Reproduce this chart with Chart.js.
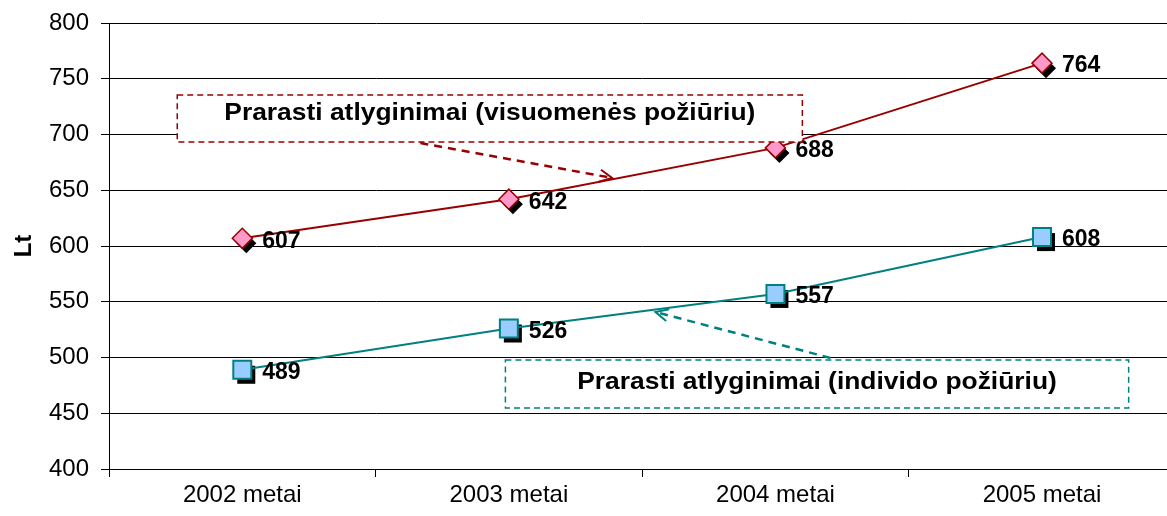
<!DOCTYPE html>
<html>
<head>
<meta charset="utf-8">
<script src="https://cdn.jsdelivr.net/npm/chart.js@4/dist/chart.umd.min.js"></script>
<style>
  html, body { margin: 0; padding: 0; background: #fff; overflow: hidden; }
  #wrap { width: 1190px; height: 516px; position: relative; }
</style>
</head>
<body>
<div id="wrap"><canvas id="chart"></canvas></div>
<script>
// values
const years = ['2002 metai', '2003 metai', '2004 metai', '2005 metai'];
const socialLoss = [607, 642, 688, 764];      // visuomenės požiūriu
const individualLoss = [489, 526, 557, 608];  // individo požiūriu
const yMin = 400;
const yMax = 800;
const yStep = 50;

const FONT = '"Liberation Sans", Arial, sans-serif';

// callout boxes, placed in data units (category index, Lt)
const notes = [
  {
    text: 'Prarasti atlyginimai (visuomenės požiūriu)',
    color: '#990000',
    box: [-0.244, 735.4, 2.101, 693.3],
    arrow: [0.668, 692.4, 1.388, 661.0]
  },
  {
    text: 'Prarasti atlyginimai (individo požiūriu)',
    color: '#008080',
    box: [0.987, 497.8, 3.325, 454.7],
    arrow: [2.206, 499.6, 1.55, 540.8]
  }
];

// black drop shadow under each marker, drawn before the series
const shadowPlugin = {
  id: 'shadows',
  beforeDatasetsDraw(chart) {
    const ctx = chart.ctx;
    ctx.save();
    ctx.fillStyle = '#000';
    chart.data.datasets.forEach((ds, i) => {
      chart.getDatasetMeta(i).data.forEach(pt => {
        const x = pt.x + 4, y = pt.y + 5;
        ctx.beginPath();
        if (ds.pointStyle === 'rectRot') {
          ctx.moveTo(x, y - 10);
          ctx.lineTo(x + 10, y);
          ctx.lineTo(x, y + 10);
          ctx.lineTo(x - 10, y);
          ctx.closePath();
        } else {
          ctx.rect(x - 9, y - 9, 18, 18);
        }
        ctx.fill();
      });
    });
    ctx.restore();
  }
};

// value labels + callouts
const labelPlugin = {
  id: 'labels',
  afterDatasetsDraw(chart) {
    const ctx = chart.ctx;
    const xs = chart.scales.x, ys = chart.scales.y;
    ctx.save();
    ctx.fillStyle = '#000';
    ctx.font = 'bold 23px ' + FONT;
    ctx.textAlign = 'left';
    ctx.textBaseline = 'middle';
    chart.data.datasets.forEach((ds, i) => {
      chart.getDatasetMeta(i).data.forEach((pt, j) => {
        ctx.fillText(String(ds.data[j]), pt.x + 20, pt.y + 3);
      });
    });

    notes.forEach((n, k) => {
      const x0 = xs.getPixelForValue(n.box[0]), y0 = ys.getPixelForValue(n.box[1]);
      const x1 = xs.getPixelForValue(n.box[2]), y1 = ys.getPixelForValue(n.box[3]);
      ctx.fillStyle = '#fff';
      ctx.fillRect(x0, y0, x1 - x0, y1 - y0);
      ctx.strokeStyle = n.color;
      ctx.lineWidth = 1.5;
      ctx.setLineDash([6, 4]);
      ctx.strokeRect(x0, y0, x1 - x0, y1 - y0);

      // the original text is a little stretched sideways
      ctx.fillStyle = '#000';
      ctx.font = 'bold 24px ' + FONT;
      ctx.textAlign = 'center';
      ctx.save();
      ctx.translate((x0 + x1) / 2, (y0 + y1) / 2 - (k === 0 ? 5 : 2));
      ctx.scale(1.1, 1);
      ctx.fillText(n.text, 0, 0);
      ctx.restore();

      const ax = xs.getPixelForValue(n.arrow[0]), ay = ys.getPixelForValue(n.arrow[1]);
      const bx = xs.getPixelForValue(n.arrow[2]), by = ys.getPixelForValue(n.arrow[3]);
      ctx.lineWidth = 2.5;
      ctx.setLineDash([8, 6]);
      ctx.beginPath();
      ctx.moveTo(ax, ay);
      ctx.lineTo(bx, by);
      ctx.stroke();
      // open arrow head
      const ang = Math.atan2(by - ay, bx - ax);
      ctx.setLineDash([]);
      ctx.lineWidth = 2;
      ctx.beginPath();
      ctx.moveTo(bx - 14 * Math.cos(ang - 0.45), by - 14 * Math.sin(ang - 0.45));
      ctx.lineTo(bx, by);
      ctx.lineTo(bx - 14 * Math.cos(ang + 0.45), by - 14 * Math.sin(ang + 0.45));
      ctx.stroke();
    });
    ctx.restore();
  }
};

new Chart(document.getElementById('chart'), {
  type: 'line',
  data: {
    labels: years,
    datasets: [
      {
        data: socialLoss,
        borderColor: '#990000',
        borderWidth: 2,
        pointStyle: 'rectRot',
        pointRadius: 10,
        pointBackgroundColor: '#FF99CC',
        pointBorderColor: '#990000',
        pointBorderWidth: 1.5,
        tension: 0
      },
      {
        data: individualLoss,
        borderColor: '#008080',
        borderWidth: 2,
        pointStyle: 'rect',
        pointRadius: 12.7,
        pointBackgroundColor: '#99CCFF',
        pointBorderColor: '#008080',
        pointBorderWidth: 2,
        tension: 0
      }
    ]
  },
  options: {
    responsive: true,
    maintainAspectRatio: false,
    animation: false,
    devicePixelRatio: 1,
    layout: { padding: { top: 23, left: 0, right: 0, bottom: 0 } },
    plugins: {
      legend: { display: false },
      tooltip: { enabled: false }
    },
    scales: {
      x: {
        offset: true,
        grid: { offset: true, drawOnChartArea: false, drawTicks: true, tickLength: 8, color: '#000' },
        border: { display: true, color: '#000', width: 1 },
        ticks: { color: '#000', font: { family: FONT, size: 24 }, padding: 4, maxRotation: 0 },
        afterFit(scale) { scale.height = 47; }
      },
      y: {
        min: yMin,
        max: yMax,
        grid: { color: '#000', lineWidth: 1, tickLength: 8 },
        border: { display: true, color: '#000', width: 1 },
        ticks: { stepSize: yStep, color: '#000', font: { family: FONT, size: 24 }, padding: 12 },
        title: { display: true, text: 'Lt', color: '#000', font: { family: FONT, size: 24, weight: 'bold' }, padding: { top: 10, bottom: 0 } },
        afterFit(scale) {
          scale.width = 109;
          scale.paddingTop = 0;
          scale.paddingBottom = 0;
        }
      }
    }
  },
  plugins: [shadowPlugin, labelPlugin]
});
</script>
</body>
</html>
